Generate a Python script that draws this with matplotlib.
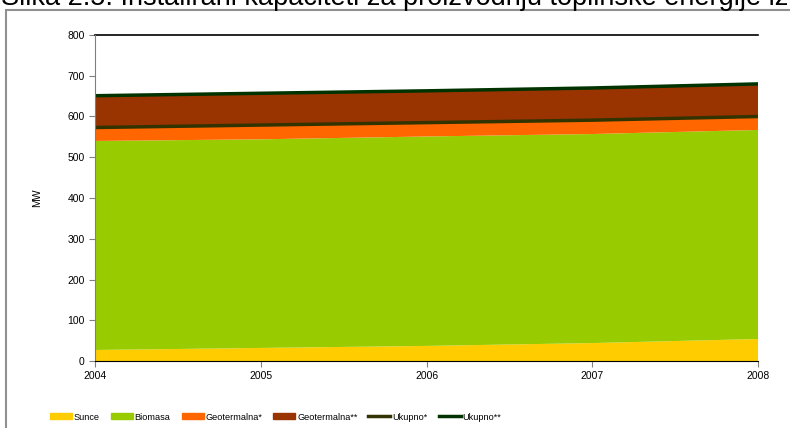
import matplotlib.pyplot as plt
from matplotlib.patches import Rectangle
from matplotlib.lines import Line2D

plt.rcParams['font.family'] = ['Liberation Sans', 'DejaVu Sans']

years = [2004, 2005, 2006, 2007, 2008]
sunce = [27, 32, 37, 44, 54]
biomasa = [513, 512, 514, 513, 513]
geo1 = [33, 35, 34, 34, 33]
geo2 = [78, 78, 78, 79, 80]

ukupno1 = [s + b + g for s, b, g in zip(sunce, biomasa, geo1)]
ukupno2 = [u + g for u, g in zip(ukupno1, geo2)]

fig = plt.figure(figsize=(7.9, 4.28), dpi=100)
ax = fig.add_axes([95/790, 1 - 361/428, (758 - 95)/790, (361 - 35)/428])

cols = ['#FFCC00', '#99CC00', '#FF6600', '#993300']
ax.stackplot(years, sunce, biomasa, geo1, geo2, colors=cols, linewidth=0)
ax.plot(years, ukupno1, color='#333300', lw=2.5)
ax.plot(years, ukupno2, color='#003300', lw=2.5)

ax.set_xlim(2004, 2008)
ax.set_ylim(0, 800)
ax.set_xticks(years)
ax.set_yticks(range(0, 801, 100))
ax.tick_params(labelsize=7.5, length=4, direction='out', color='#808080')
ax.axhline(800, color='black', lw=1.2, clip_on=False)
for s in ['top', 'right']:
    ax.spines[s].set_visible(False)
ax.spines['left'].set_color('#808080')
ax.spines['bottom'].set_color('black')
ax.set_ylabel('MW', fontsize=7.5, labelpad=18)

# outer frame
fig.patches.append(Rectangle((6/790, -0.1), 1.2, 1.1 - 10/428, transform=fig.transFigure,
                             fill=False, edgecolor='#909090', lw=1.5))
fig.text(1/790, 1 - 5/428, 'Slika 2.5. Instalirani kapaciteti za proizvodnju toplinske energije iz',
         fontsize=19.5, va='baseline', ha='left')

handles = [Rectangle((0, 0), 1, 1, color=c) for c in cols]
handles += [Line2D([0], [0], color='#333300', lw=2.5), Line2D([0], [0], color='#003300', lw=2.5)]
labels = ['Sunce', 'Biomasa', 'Geotermalna*', 'Geotermalna**', 'Ukupno*', 'Ukupno**']
fig.legend(handles, labels, loc='center left', bbox_to_anchor=(50/790, 11/428), ncol=6,
           frameon=False, fontsize=6.6, handlelength=2.4, handleheight=0.6,
           handletextpad=0.2, columnspacing=1.2, borderaxespad=0, borderpad=0)

plt.savefig('out.png')
